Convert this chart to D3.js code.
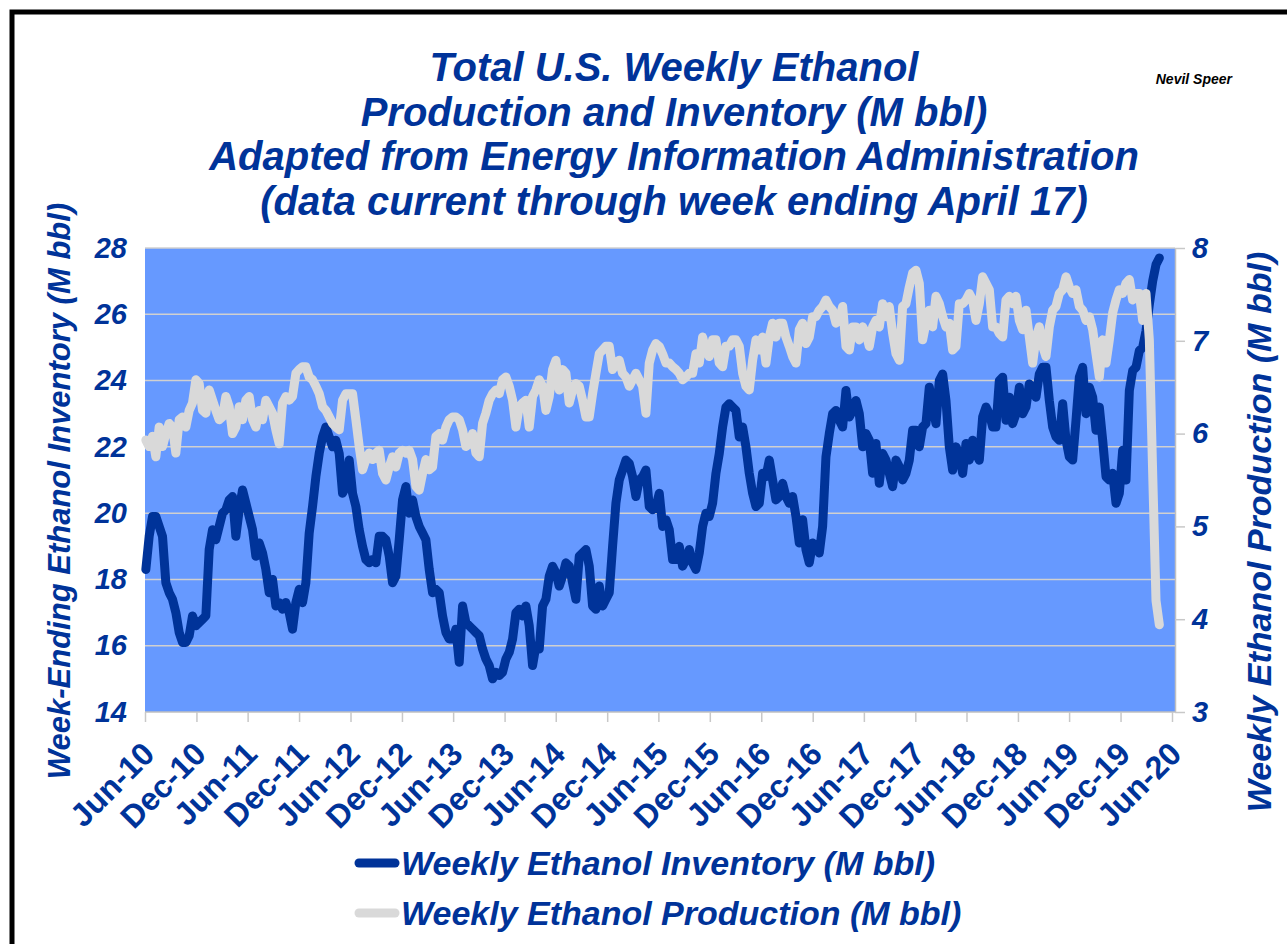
<!DOCTYPE html>
<html>
<head>
<meta charset="utf-8">
<title>Total U.S. Weekly Ethanol Production and Inventory</title>
<script src="https://d3js.org/d3.v7.min.js"></script>
<style>
  body { margin: 0; background: #fff; }
  text { font-family: "Liberation Sans", Arial, sans-serif; font-weight: bold; }
</style>
</head>
<body>
<svg width="1287" height="944"></svg>
<script>

// readings taken off the weekly lines, evenly spaced from first to last report week
var firstWeek = "2010-06-04";
var lastWeek = "2020-04-17";

// Week-ending ethanol inventory (M bbl), left axis
var inventory = [
  18.3, 19.3, 19.9, 19.9, 19.6, 19.3, 17.9, 17.6, 17.4, 17.0,
  16.4, 16.1, 16.1, 16.3, 16.9, 16.6, 16.7, 16.8, 16.9, 18.9,
  19.5, 19.2, 19.6, 20.0, 20.1, 20.4, 20.5, 19.3, 20.1, 20.7,
  20.3, 19.9, 19.5, 18.7, 19.1, 18.8, 18.3, 17.6, 18.0, 17.2,
  17.3, 17.1, 17.3, 17.0, 16.5, 17.3, 17.7, 17.3, 17.9, 19.4,
  20.2, 21.1, 21.8, 22.3, 22.6, 22.3, 22.0, 22.2, 21.8, 20.6,
  20.8,
  21.6, 20.6, 20.2, 19.5, 19.0, 18.6, 18.5, 18.6, 18.5, 19.3,
  19.3, 19.2, 18.7, 17.9, 18.1, 19.2, 20.4, 20.8, 20.0, 20.4,
  19.9, 19.6, 19.4, 19.2, 18.3, 17.6, 17.7, 17.6, 16.9, 16.4,
  16.2, 16.2, 16.5, 15.5, 17.2, 16.7, 16.6, 16.5, 16.4, 16.3,
  15.9, 15.6, 15.4, 15.0, 15.2, 15.1, 15.2, 15.6, 15.8, 16.2,
  17.0, 17.1, 16.9, 17.2, 16.6, 15.4, 16.0, 15.9, 17.2, 17.4,
  18.1, 18.4,
  18.2, 17.8, 18.1, 18.5, 18.4, 17.9, 17.4, 18.7, 18.8, 18.9,
  18.4, 17.2, 17.1, 17.8, 17.2, 17.4, 17.6, 19.0, 20.3, 21.0,
  21.3, 21.6, 21.5, 21.1, 20.5, 21.0, 21.1, 21.3, 20.2, 20.1,
  20.2, 20.6, 19.6, 19.8, 19.5, 18.6, 18.6, 19.0, 18.4, 18.6,
  18.9, 18.5, 18.3, 18.8, 19.6, 20.0, 19.9, 20.3, 21.2, 21.8,
  22.6, 23.2, 23.3, 23.2, 23.1, 22.3, 22.6, 22.0, 21.2, 20.6,
  20.2,
  20.3, 21.2, 21.1, 21.6, 21.0, 20.4, 20.5, 20.9, 20.5, 20.3,
  20.5, 19.9, 19.1, 19.8, 18.9, 18.5, 19.1, 19.0, 18.8, 19.6,
  21.7, 22.4, 23.0, 23.1, 22.8, 22.6, 23.7, 22.9, 23.1, 23.4,
  23.0, 22.0, 22.4, 22.2, 21.2, 22.1, 20.9, 21.8, 21.6, 21.2,
  20.8, 21.6, 21.4, 21.0, 21.2, 21.6, 22.5, 22.5, 22.0, 22.6,
  22.7, 23.8, 23.2, 22.7, 24.0, 24.2, 23.4, 22.0, 21.3, 22.0,
  21.8, 21.2,
  22.1, 21.6, 22.2, 21.8, 21.6, 22.9, 23.2, 23.0, 22.6, 22.6,
  24.0, 24.1, 22.8, 23.5, 22.7, 23.0, 23.8, 23.0, 23.2, 23.9,
  23.7, 23.5, 24.2, 24.4, 24.4, 23.4, 22.6, 22.3, 22.2, 23.3,
  22.2, 21.7, 21.6, 22.8, 24.1, 24.4, 23.0, 23.8, 23.5, 22.5,
  23.2, 22.2, 21.1, 21.0, 21.2, 20.3, 20.6, 21.9, 21.0, 23.7,
  24.3, 24.4, 24.9, 25.0, 25.5, 26.3, 27.0, 27.5, 27.7
];

// Weekly ethanol production (M bbl), right axis
var production = [
  5.93, 5.86, 5.97, 5.75, 6.07, 5.86, 6.00, 6.11, 6.07, 5.79,
  6.15, 6.18, 6.07, 6.25, 6.33, 6.58, 6.54, 6.25, 6.22, 6.47,
  6.36, 6.25, 6.15, 6.18, 6.40, 6.29, 6.00, 6.07, 6.29, 6.15,
  6.36, 6.40, 6.15, 6.07, 6.25, 6.15, 6.36, 6.29, 6.22, 6.04,
  5.89, 6.33, 6.40, 6.36, 6.40, 6.65, 6.69, 6.72, 6.72, 6.61,
  6.58, 6.51, 6.43, 6.29, 6.25, 6.18, 6.11, 6.07, 6.04, 6.36,
  6.43,
  6.43, 6.43, 6.15, 5.86, 5.61, 5.72, 5.79, 5.72, 5.79, 5.82,
  5.57, 5.50, 5.64, 5.75, 5.64, 5.79, 5.82, 5.79, 5.82, 5.72,
  5.43, 5.39, 5.57, 5.72, 5.61, 5.64, 5.97, 6.00, 5.93, 6.07,
  6.15, 6.18, 6.18, 6.15, 6.04, 5.86, 5.89, 6.00, 5.79, 5.75,
  6.11, 6.22, 6.36, 6.43, 6.47, 6.43, 6.58, 6.61, 6.51, 6.36,
  6.07, 6.29, 6.33, 6.36, 6.07, 6.40, 6.47, 6.58, 6.51, 6.25,
  6.40, 6.69,
  6.79, 6.47, 6.69, 6.65, 6.33, 6.47, 6.54, 6.51, 6.36, 6.18,
  6.18, 6.43, 6.65, 6.86, 6.90, 6.94, 6.94, 6.69, 6.76, 6.79,
  6.65, 6.61, 6.51, 6.58, 6.65, 6.58, 6.51, 6.22, 6.76, 6.90,
  6.97, 6.94, 6.86, 6.76, 6.76, 6.72, 6.69, 6.65, 6.58, 6.61,
  6.65, 6.65, 6.86, 6.76, 7.04, 6.90, 6.83, 7.01, 7.01, 6.76,
  6.72, 6.94, 6.94, 7.01, 7.01, 6.94, 6.65, 6.51, 6.47, 6.79,
  7.01,
  6.90, 7.04, 6.76, 7.04, 7.19, 7.04, 7.19, 7.19, 7.04, 6.94,
  6.83, 6.76, 7.12, 7.19, 6.97, 7.04, 7.26, 7.26, 7.33, 7.37,
  7.44, 7.37, 7.33, 7.19, 7.22, 7.37, 6.94, 6.90, 7.15, 7.15,
  7.01, 7.15, 7.08, 6.94, 7.15, 7.22, 7.15, 7.40, 7.26, 7.37,
  7.08, 6.86, 6.79, 7.37, 7.40, 7.58, 7.73, 7.76, 7.62, 7.01,
  7.19, 7.33, 7.15, 7.48, 7.40, 7.26, 7.15, 7.19, 6.90, 6.94,
  7.40, 7.40,
  7.44, 7.51, 7.44, 7.22, 7.40, 7.69, 7.62, 7.55, 7.15, 7.15,
  7.08, 7.04, 7.44, 7.48, 7.40, 7.48, 7.22, 7.12, 7.33, 7.04,
  6.76, 7.04, 7.15, 6.94, 6.83, 7.15, 7.33, 7.37, 7.51, 7.55,
  7.69, 7.58, 7.51, 7.55, 7.37, 7.33, 7.22, 7.26, 7.12, 6.86,
  6.61, 7.01, 6.76, 7.01, 7.30, 7.44, 7.55, 7.51, 7.62, 7.66,
  7.44, 7.51, 7.51, 7.22, 7.51, 7.01, 5.57, 4.20, 3.94
];

var xTicks = ["Jun-10", "Dec-10", "Jun-11", "Dec-11", "Jun-12", "Dec-12", "Jun-13",
  "Dec-13", "Jun-14", "Dec-14", "Jun-15", "Dec-15", "Jun-16", "Dec-16", "Jun-17",
  "Dec-17", "Jun-18", "Dec-18", "Jun-19", "Dec-19", "Jun-20"];
var leftTicks = [14, 16, 18, 20, 22, 24, 26, 28];
var rightTicks = [3, 4, 5, 6, 7, 8];

var titleLines = [
  "Total U.S. Weekly Ethanol",
  "Production and Inventory (M bbl)",
  "Adapted from Energy Information Administration",
  "(data current through week ending April 17)"
];
var seriesNames = ["Weekly Ethanol Inventory (M bbl)", "Weekly Ethanol Production (M bbl)"];

var blue = "#003399";
var colors = ["#003399", "#d9d9d9"];

var plot = {left: 145, right: 1175, top: 248, bottom: 712};

var svg = d3.select("svg");
var parseTick = d3.timeParse("%b-%y");
var fmtTick = d3.timeFormat("%b-%y");

var x = d3.scaleTime()
  .domain([parseTick(xTicks[0]), parseTick(xTicks[xTicks.length - 1])])
  .range([plot.left, 1172]);
var yL = d3.scaleLinear().domain([14, 28]).range([plot.bottom, plot.top]);
var yR = d3.scaleLinear().domain([3, 8]).range([plot.bottom, plot.top]);

// sample index -> date
var n = inventory.length;
var t0 = d3.timeParse("%Y-%m-%d")(firstWeek), t1 = d3.timeParse("%Y-%m-%d")(lastWeek);
var when = d3.scaleLinear().domain([0, n - 1]).range([+t0, +t1]);
var dates = d3.range(n).map(function(i) { return new Date(when(i)); });

// outer frame
svg.append("rect")
  .attr("x", 12).attr("y", 12).attr("width", 1290).attr("height", 950)
  .attr("fill", "none").attr("stroke", "#000").attr("stroke-width", 5);

// plot background
svg.append("rect")
  .attr("x", plot.left).attr("y", plot.top)
  .attr("width", plot.right - plot.left).attr("height", plot.bottom - plot.top)
  .attr("fill", "#6699ff");

svg.append("g")
  .selectAll("line")
  .data(leftTicks.filter(function(d) { return d > 14; }))
  .enter()
  .append("line")
  .attr("x1", plot.left).attr("x2", plot.right)
  .attr("y1", yL).attr("y2", yL)
  .attr("stroke", "#d0d0d0").attr("stroke-width", 1.5);

// x axis
var gx = svg.append("g")
  .attr("transform", "translate(0," + plot.bottom + ")")
  .call(d3.axisBottom(x).tickValues(xTicks.map(parseTick)).tickFormat(fmtTick).tickSize(10).tickSizeOuter(0));
gx.select(".domain").attr("d", "M" + plot.left + ",0H" + plot.right)
  .attr("stroke", "#c0c0c0").attr("stroke-width", 1.5);
gx.selectAll(".tick line").attr("stroke", "#c8c8c8").attr("stroke-width", 1.5);
gx.selectAll(".tick text")
  .attr("y", 0).attr("dy", "0.35em")
  .attr("text-anchor", "end")
  .attr("transform", "translate(3,36) rotate(-45)")
  .attr("fill", blue)
  .style("font-size", "32px");

// left axis
var gl = svg.append("g")
  .attr("transform", "translate(" + plot.left + ",0)")
  .call(d3.axisLeft(yL).tickValues(leftTicks).tickSize(0).tickPadding(18));
gl.select(".domain").remove();
gl.selectAll(".tick text")
  .attr("fill", blue)
  .style("font-size", "29px").style("font-style", "italic");

// right axis
var gr = svg.append("g")
  .attr("transform", "translate(" + plot.right + ",0)")
  .call(d3.axisRight(yR).tickValues(rightTicks).tickFormat(d3.format("d"))
    .tickSize(10).tickSizeOuter(0).tickPadding(7));
gr.select(".domain").attr("stroke", "#c0c0c0").attr("stroke-width", 1.5);
gr.selectAll(".tick line").attr("stroke", "#c8c8c8").attr("stroke-width", 1.5);
gr.selectAll(".tick text")
  .attr("fill", blue)
  .style("font-size", "29px").style("font-style", "italic");

// series lines
var invLine = d3.line()
  .x(function(d, i) { return x(dates[i]); })
  .y(function(d) { return yL(d); });
var prodLine = d3.line()
  .x(function(d, i) { return x(dates[i]); })
  .y(function(d) { return yR(d); });

svg.append("path")
  .datum(inventory)
  .attr("d", invLine)
  .attr("fill", "none").attr("stroke", colors[0]).attr("stroke-width", 9)
  .attr("stroke-linejoin", "round").attr("stroke-linecap", "round");

svg.append("path")
  .datum(production)
  .attr("d", prodLine)
  .attr("fill", "none").attr("stroke", colors[1]).attr("stroke-width", 9)
  .attr("stroke-linejoin", "round").attr("stroke-linecap", "round");

// titles
svg.append("g")
  .selectAll("text")
  .data(titleLines)
  .enter()
  .append("text")
  .attr("x", 674)
  .attr("y", function(d, i) { return 81 + i * 44.7; })
  .attr("text-anchor", "middle")
  .attr("fill", blue)
  .style("font-size", "40px").style("font-style", "italic")
  .text(function(d) { return d; });

svg.append("text")
  .attr("x", 1232).attr("y", 84)
  .attr("text-anchor", "end")
  .attr("fill", "#000")
  .style("font-size", "14px").style("font-style", "italic")
  .text("Nevil Speer");

svg.append("text")
  .attr("transform", "translate(70,491) rotate(-90)")
  .attr("text-anchor", "middle")
  .attr("fill", blue)
  .style("font-size", "31px").style("font-style", "italic")
  .text("Week-Ending Ethanol Inventory (M bbl)");

svg.append("text")
  .attr("transform", "translate(1271,532) rotate(-90)")
  .attr("text-anchor", "middle")
  .attr("fill", blue)
  .style("font-size", "34px").style("font-style", "italic")
  .text("Weekly Ethanol Production (M bbl)");

// legend
var legend = svg.append("g")
  .selectAll("g")
  .data(seriesNames)
  .enter()
  .append("g")
  .attr("transform", function(d, i) { return "translate(0," + (863 + i * 50) + ")"; });

legend.append("line")
  .attr("x1", 359).attr("x2", 395)
  .attr("stroke", function(d, i) { return colors[i]; })
  .attr("stroke-width", 9).attr("stroke-linecap", "round");

legend.append("text")
  .attr("x", 401).attr("dy", "0.35em")
  .attr("fill", blue)
  .style("font-size", "34px").style("font-style", "italic")
  .text(function(d) { return d; });

</script>
</body>
</html>
